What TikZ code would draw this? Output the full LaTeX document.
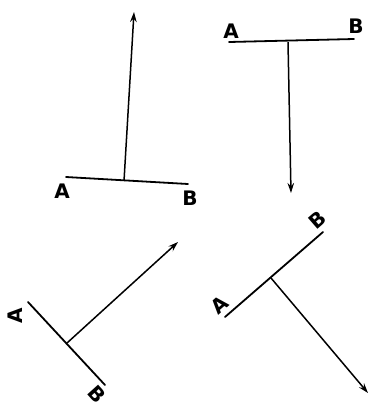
\documentclass[tikz,border=0pt]{standalone}
\usepackage{fontspec}
\setmainfont{DejaVu Sans}
\usetikzlibrary{arrows.meta}
\begin{document}
\begin{tikzpicture}[x=1pt,y=-1pt,
  bar/.style={line width=1.8pt,line cap=round},
  vec/.style={line width=1.5pt,-{Stealth[length=10pt,width=6.5pt]}},
  lbl/.style={inner sep=0pt,font=\fontsize{20}{20}\selectfont\bfseries}]
\useasboundingbox (0,0) rectangle (369,408);
% panel 1
\coordinate (a1) at (66,177);
\coordinate (b1) at (188,184);
\coordinate (m1) at (124,181);
\coordinate (t1) at (134,12);
\draw[bar] (a1) -- (b1);
\draw[vec] (m1) -- (t1);
\node[lbl] (la1) at (62,191) {A};
\node[lbl] (lb1) at (190,198) {B};
% panel 2
\coordinate (a2) at (229,42);
\coordinate (b2) at (354,39);
\coordinate (m2) at (288,42);
\coordinate (t2) at (291,193);
\draw[bar] (a2) -- (b2);
\draw[vec] (m2) -- (t2);
\node[lbl] (la2) at (231,31) {A};
\node[lbl] (lb2) at (356,26) {B};
% panel 3
\coordinate (a3) at (28,302);
\coordinate (b3) at (105,385);
\coordinate (m3) at (67,343);
\coordinate (t3) at (178,242);
\draw[bar] (a3) -- (b3);
\draw[vec] (m3) -- (t3);
\node[lbl,rotate=90] (la3) at (15,316) {A};
\node[lbl,rotate=-48] (lb3) at (97,394) {B};
% panel 4
\coordinate (a4) at (225,317);
\coordinate (b4) at (323,232);
\coordinate (m4) at (271,278);
\coordinate (t4) at (368,393);
\draw[bar] (a4) -- (b4);
\draw[vec] (m4) -- (t4);
\node[lbl,rotate=41] (la4) at (220,305) {A};
\node[lbl,rotate=41] (lb4) at (317,220) {B};
\end{tikzpicture}
\end{document}
